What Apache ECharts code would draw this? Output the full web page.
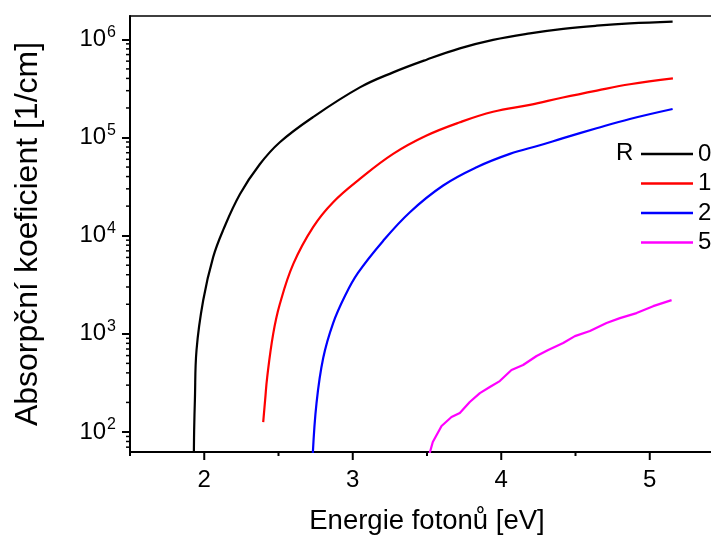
<!DOCTYPE html>
<html><head><meta charset="utf-8">
<script src="https://cdn.jsdelivr.net/npm/echarts@6/dist/echarts.min.js"></script>
<style>html,body{margin:0;padding:0;background:#fff}#c{width:711px;height:539px}</style>
</head><body><div id="c"></div>
<script>
// ---- data (photon energy [eV], absorption coefficient [1/cm]) ----
const E_R0 = [1.930, 1.932, 1.937, 1.948, 1.993, 2.060, 2.127, 2.240, 2.374, 2.509, 2.731, 3.048, 3.272, 3.497, 3.721, 3.945, 4.193, 4.417, 4.642, 4.866, 5.154];
const A_R0 = [60, 105, 212, 684, 2200, 6040, 11380, 26400, 53400, 89500, 160800, 324000, 461000, 621000, 809000, 988000, 1151000, 1279000, 1378000, 1455000, 1518000];
const E_R1 = [2.397, 2.410, 2.424, 2.464, 2.509, 2.599, 2.733, 2.868, 3.048, 3.272, 3.497, 3.721, 3.945, 4.193, 4.415, 4.644, 4.866, 5.156];
const A_R1 = [126, 212, 363, 993, 2010, 5130, 12220, 21930, 37840, 68080, 104700, 142900, 182800, 215300, 255600, 300800, 348600, 401000];
const E_R2 = [2.731, 2.756, 2.801, 2.868, 2.947, 3.034, 3.203, 3.385, 3.609, 3.834, 4.058, 4.260, 4.417, 4.642, 4.866, 5.154];
const A_R2 = [60, 197, 566, 1285, 2420, 4150, 8790, 17340, 32430, 49770, 68080, 83420, 98500, 124200, 154500, 195300];
const E_R5 = [3.517, 3.539, 3.598, 3.665, 3.721, 3.788, 3.856, 3.923, 3.990, 4.069, 4.147, 4.238, 4.316, 4.417, 4.496, 4.597, 4.709, 4.799, 4.911, 5.023, 5.147];
const A_R5 = [60, 79, 115, 142, 156, 202, 249, 287, 330, 428, 481, 594, 684, 806, 948, 1067, 1286, 1445, 1626, 1914, 2202];
const seriesNames = ['0', '1', '2', '5'];
const seriesColors = ['#000000', '#ff0000', '#0000ff', '#ff00ff'];
const seriesSmooth = [0.4, 0.4, 0.4, false];
const xMajorTicks = [2, 3, 4, 5];
const xMinorTicks = [1.5, 2.5, 3.5, 4.5, 5.5];
const X_MIN = 1.5, X_MAX = 5.5;
const Y_MIN = 62.5, Y_MAX = 1.73e6;

const FONT = 'Liberation Sans, Arial, sans-serif';
const zip = (xs, ys) => xs.map((x, i) => [x, ys[i]]);
const allData = [zip(E_R0, A_R0), zip(E_R1, A_R1), zip(E_R2, A_R2), zip(E_R5, A_R5)];

// minor ticks of log axis (2..9 x 10^k)
const yMinorTicks = [];
for (let k = 1; k <= 6; k++) for (let m = 2; m <= 9; m++) {
  const v = m * Math.pow(10, k);
  if (v > Y_MIN && v < Y_MAX) yMinorTicks.push(v);
}
const tickData = [];
xMajorTicks.forEach(v => tickData.push([v, Y_MIN, 0]));
xMinorTicks.forEach(v => tickData.push([v, Y_MIN, 1]));
yMinorTicks.forEach(v => tickData.push([X_MIN, v, 2]));

const chart = echarts.init(document.getElementById('c'), null, {renderer: 'canvas'});
const lineSeries = allData.map((d, i) => ({
  name: seriesNames[i], type: 'line', data: d, symbol: 'none', showSymbol: false,
  smooth: seriesSmooth[i],
  lineStyle: {color: seriesColors[i], width: 2.2}, itemStyle: {color: seriesColors[i]},
  clip: true, z: 3
}));
chart.setOption({
  animation: false,
  backgroundColor: '#fff',
  textStyle: {fontFamily: FONT},
  title: {text: 'R', left: 616, top: 141, padding: 0,
    textStyle: {fontSize: 24, fontWeight: 'normal', color: '#000', fontFamily: FONT}},
  legend: {data: seriesNames.map(n => ({name: n, icon: 'rect'})), orient: 'vertical', left: 641, top: 142, padding: 0,
    itemWidth: 52, itemHeight: 2.4, itemGap: 5.5,
    textStyle: {fontSize: 24, color: '#000', fontFamily: FONT}},
  grid: {left: 130, top: 16, right: -13, bottom: 87, show: true, borderColor: '#000', borderWidth: 1.5,
    outerBoundsMode: 'none', containLabel: false},
  xAxis: {
    type: 'value', min: X_MIN, max: X_MAX, interval: 0.5,
    axisLine: {show: true, onZero: false, lineStyle: {color: '#000', width: 2}},
    axisTick: {show: false},
    splitLine: {show: false},
    axisLabel: {margin: 16, fontSize: 24, color: '#000', fontFamily: FONT,
      formatter: v => (Math.abs(v - Math.round(v)) < 1e-9 ? String(Math.round(v)) : '')},
    name: 'Energie fotonů [eV]', nameLocation: 'middle', nameGap: 55,
    nameTextStyle: {fontSize: 27.5, color: '#000', fontFamily: FONT}
  },
  yAxis: {
    type: 'log', logBase: 10, min: Y_MIN, max: Y_MAX,
    axisLine: {show: true, lineStyle: {color: '#000', width: 2}},
    axisTick: {show: true, inside: false, length: 8, lineStyle: {color: '#000', width: 2}},
    splitLine: {show: false},
    axisLabel: {margin: 14, showMinLabel: false, showMaxLabel: false, color: '#000',
      formatter: v => {
        const l = Math.log10(v); const e = Math.round(l);
        if (Math.abs(l - e) > 1e-6) return '';
        return '{b|10}{s|' + e + '}';
      },
      rich: {
        b: {fontSize: 24, color: '#000', fontFamily: FONT, lineHeight: 30},
        s: {fontSize: 16, color: '#000', fontFamily: FONT, verticalAlign: 'top', lineHeight: 30, padding: [0, 0, 0, 1]}
      }
    },
    name: 'Absorpční koeficient [1/cm]', nameLocation: 'middle', nameGap: 86,
    nameTextStyle: {fontSize: 32, color: '#000', fontFamily: FONT}
  },
  series: lineSeries.concat([{
    type: 'custom', coordinateSystem: 'cartesian2d', data: tickData, silent: true, clip: false, z: 5,
    renderItem: (params, api) => {
      const kind = api.value(2);
      if (kind === 0 || kind === 1) {
        const p = api.coord([api.value(0), Y_MIN]);
        const len = kind === 0 ? 8 : 4;
        return {type: 'line', shape: {x1: p[0], y1: p[1], x2: p[0], y2: p[1] + len},
          style: {stroke: '#000', lineWidth: 2}};
      }
      const p = api.coord([X_MIN, api.value(1)]);
      return {type: 'line', shape: {x1: p[0] - 4, y1: p[1], x2: p[0], y2: p[1]},
        style: {stroke: '#000', lineWidth: 1.5}};
    }
  }])
});
</script></body></html>
